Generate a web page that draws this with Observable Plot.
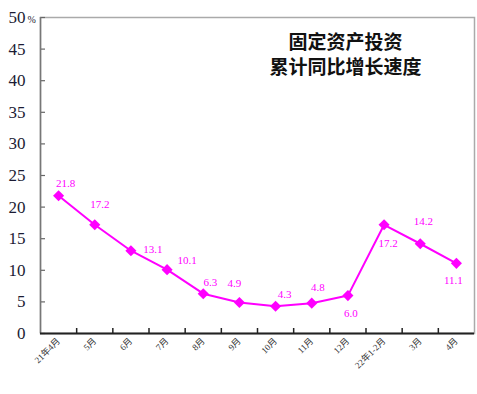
<!DOCTYPE html>
<html><head><meta charset="utf-8">
<script src="https://cdn.jsdelivr.net/npm/d3@7"></script>
<script src="https://cdn.jsdelivr.net/npm/@observablehq/plot@0.6"></script>
<style>
body{margin:0;background:#fff} #chart{position:relative}
</style>
</head><body><div id="chart"></div>
<script>
const months = ["21年4月","5月","6月","7月","8月","9月","10月","11月","12月","22年1-2月","3月","4月"];
const growth = [21.8,17.2,13.1,10.1,6.3,4.9,4.3,4.8,6.0,17.2,14.2,11.1];
const yTicks = [0,5,10,15,20,25,30,35,40,45,50];
const titleLines = ["固定资产投资","累计同比增长速度"];
const unitLabel = "%";
// label placement (style, not data): [dx, dy] per point
const labelOffsets = [[7,-12],[5,-20],[22,-1],[20,-9],[7,-11],[-5,-19],[9,-12],[6,-16],[3,18],[4,19],[3,-22],[-3,17]];

const data = months.map((m, i) => ({i, m, v: growth[i]}));
const idx = months.map((_, i) => i);
const bounds = idx.slice(0, -1).map(i => i + 0.5);
const serif = "'Liberation Serif','Noto Sans CJK SC',serif";
const magenta = "#ff00ff";

const chart = Plot.plot({
  width: 477,
  height: 394,
  marginLeft: 40,
  marginRight: 3,
  marginTop: 17,
  marginBottom: 61,
  style: {fontFamily: serif, background: "#fff", color: "#1b1b2e"},
  x: {domain: [-0.5, months.length - 0.5], axis: null},
  y: {domain: [0, 50], axis: null},
  marks: [
    Plot.frame({stroke: "#aaa", strokeWidth: 1.5}),
    Plot.axisY(yTicks, {tickSize: -5, tickPadding: 20, fontSize: 17, fontFamily: serif, label: null, stroke: "#666", strokeWidth: 1.2, fill: "#1b1b33"}),
    Plot.axisX(idx, {tickSize: 0, tickPadding: 6, tickRotate: -45, tickFormat: i => months[i], fontSize: 9, fontFamily: serif, label: null, fill: "#333"}),
    Plot.axisX(bounds, {tickSize: -5, tickFormat: () => "", label: null, stroke: "#222", strokeWidth: 1.5}),
    Plot.ruleX([-0.5], {stroke: "#777", strokeWidth: 1.5}),
    Plot.ruleY([0], {stroke: "#222", strokeWidth: 2}),
    Plot.line(data, {x: "i", y: "v", stroke: magenta, strokeWidth: 2}),
    Plot.dot(data, {x: "i", y: "v", symbol: "diamond2", r: 5, fill: magenta, stroke: "none"}),
    ...data.map((d, k) => Plot.text([d], {x: "i", y: "v", text: d => d.v.toFixed(1), dx: labelOffsets[k][0], dy: labelOffsets[k][1], fill: magenta, fontSize: 11, fontFamily: serif})),
    Plot.text([titleLines.join("\n")], {frameAnchor: "top-left", dx: 305, dy: 36, textAnchor: "middle", lineAnchor: "middle", lineHeight: 1.3, fontSize: 19, fontWeight: "bold", fontFamily: "'Noto Sans CJK SC',sans-serif", fill: "#111"}),
    Plot.text([unitLabel], {frameAnchor: "top-left", dx: -13, dy: -2, textAnchor: "start", fontSize: 10, fontFamily: serif, fill: "#1b1b33"})
  ]
});
d3.select(chart).selectAll('g[aria-label*="axis"] text').style("font-family", serif);
document.getElementById("chart").appendChild(chart);
</script>
</body></html>
